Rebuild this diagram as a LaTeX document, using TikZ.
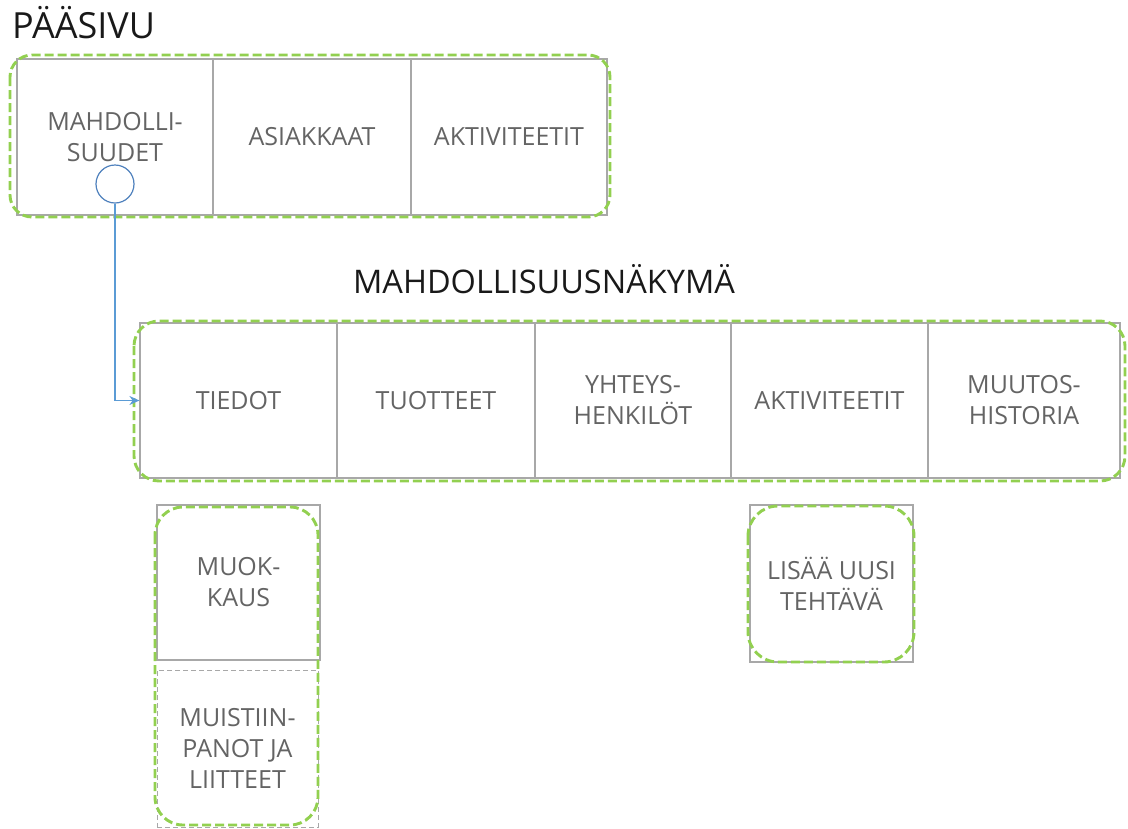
\documentclass[tikz,border=0pt]{standalone}
\usepackage{fontspec}
\setmainfont{Open Sans}
\usetikzlibrary{arrows.meta}
\definecolor{celltext}{HTML}{646464}
\definecolor{cellline}{HTML}{A8A8A8}
\definecolor{groupgreen}{HTML}{92D050}
\definecolor{linkblue}{HTML}{5B9BD5}
\definecolor{ringblue}{HTML}{4F81BD}
\tikzset{
  cell/.style={draw=cellline, line width=1.2pt, rectangle, inner sep=0pt,
    align=center, text=celltext, font=\fontsize{25}{31}\selectfont},
  subcell/.style={cell, dashed, dash pattern=on 5pt off 3pt, line width=0.9pt},
  group/.style={draw=groupgreen, line width=2.9pt, dash pattern=on 9pt off 4pt},
  heading/.style={text=black!90, inner sep=0pt},
  ring/.style={circle, draw=ringblue, line width=1.2pt, fill=white, minimum size=38pt, inner sep=0pt},
  link/.style={draw=linkblue, line width=1.2pt, -{Stealth[length=10pt,width=9pt]}}
}
\begin{document}
\begin{tikzpicture}[x=1pt,y=-1pt]
\useasboundingbox (0,0) rectangle (1128,828);

% main page
\node[heading, anchor=base west, font=\fontsize{36}{42}\selectfont] (titleMain) at (12,38) {PÄÄSIVU};
\node[cell, minimum width=196pt, minimum height=156pt] (mahd) at (115,137) {MAHDOLLI-\\SUUDET};
\node[cell, minimum width=198pt, minimum height=156pt] (asiak) at (312,137) {ASIAKKAAT};
\node[cell, minimum width=196pt, minimum height=156pt] (aktA) at (509,137) {AKTIVITEETIT};
\draw[group, rounded corners=22pt] (10,55) rectangle (610,217);
\node[ring] (ring) at (115,184) {};

% opportunity view
\node[heading, anchor=base, font=\fontsize{32.5}{38}\selectfont] (titleView) at (544,293) {MAHDOLLISUUSNÄKYMÄ};
\node[cell, minimum width=197pt, minimum height=155pt] (tiedot) at (238.5,400.5) {TIEDOT};
\node[cell, minimum width=198pt, minimum height=155pt] (tuot) at (436,400.5) {TUOTTEET};
\node[cell, minimum width=196pt, minimum height=155pt] (yht) at (633,400.5) {YHTEYS-\\HENKILÖT};
\node[cell, minimum width=197pt, minimum height=155pt] (aktB) at (829.5,400.5) {AKTIVITEETIT};
\node[cell, minimum width=192pt, minimum height=155pt] (muut) at (1024,400.5) {MUUTOS-\\HISTORIA};
\draw[group, rounded corners=25pt] (134,321) rectangle (1125,481);

% sub views
\node[cell, minimum width=163pt, minimum height=155pt] (muok) at (238.5,582.5) {MUOK-\\KAUS};
\node[subcell, minimum width=161pt, minimum height=157pt] (muist) at (237.5,748.5) {MUISTIIN-\\PANOT JA\\LIITTEET};
\draw[group, rounded corners=28pt] (155,507) rectangle (318,825);

\node[cell, minimum width=163pt, minimum height=157pt] (lisaa) at (831.5,583.5) {LISÄÄ UUSI\\TEHTÄVÄ};
\draw[group, rounded corners=30pt] (748,506) rectangle (914,662);

% navigation link
\draw[link] (ring.south) |- (tiedot.west);
\end{tikzpicture}
\end{document}
